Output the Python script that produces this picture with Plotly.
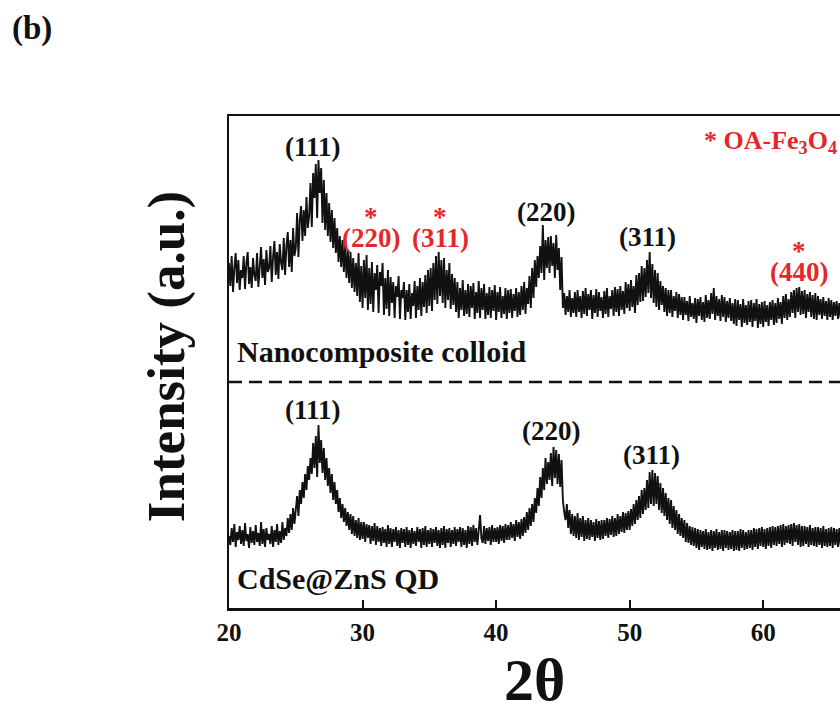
import plotly.graph_objects as go

# ---------------- data ----------------
# 2-theta sampling of the hand-read traces
two_theta_start = 20.0
two_theta_step = 0.1

# Nanocomposite colloid pattern (arbitrary intensity units), one row per degree (20..65)
nanocomposite_colloid = [
    345, 322, 352, 316, 340, 355, 325, 348, 318, 338,   # 20
    330, 352, 319, 345, 356, 324, 341, 320, 350, 333,   # 21
    327, 355, 321, 344, 361, 330, 349, 323, 358, 336,   # 22
    340, 362, 326, 351, 367, 333, 356, 329, 364, 345,   # 23
    338, 370, 333, 362, 376, 341, 368, 336, 380, 352,   # 24
    360, 395, 351, 388, 402, 367, 398, 372, 411, 380,   # 25
    392, 425, 381, 435, 410, 444, 390, 448, 415, 440,   # 26
    385, 428, 378, 415, 372, 405, 366, 398, 360, 390,   # 27
    355, 380, 346, 372, 341, 368, 336, 362, 330, 358,   # 28
    325, 356, 320, 350, 316, 345, 312, 355, 306, 342,   # 29
    300, 348, 310, 353, 298, 340, 304, 346, 296, 335,   # 30
    318, 343, 295, 336, 322, 345, 293, 330, 299, 338,   # 31
    292, 331, 305, 326, 290, 322, 311, 332, 289, 318,   # 32
    310, 326, 288, 318, 296, 324, 289, 315, 302, 327,   # 33
    290, 322, 298, 330, 292, 326, 301, 333, 295, 338,   # 34
    302, 340, 297, 345, 308, 352, 304, 356, 312, 348,   # 35
    305, 350, 300, 338, 308, 345, 299, 334, 303, 330,   # 36
    296, 326, 290, 320, 298, 328, 292, 318, 294, 324,   # 37
    291, 322, 300, 325, 289, 316, 295, 327, 290, 320,   # 38
    298, 324, 289, 315, 293, 321, 290, 318, 297, 323,   # 39
    288, 316, 296, 321, 290, 312, 294, 320, 289, 318,   # 40
    295, 319, 290, 314, 297, 320, 291, 316, 293, 322,   # 41
    298, 326, 294, 320, 304, 332, 300, 340, 310, 348,   # 42
    321, 352, 330, 362, 335, 383, 328, 368, 340, 371,   # 43
    335, 372, 342, 365, 330, 373, 338, 360, 318, 351,   # 44
    300, 315, 293, 312, 296, 318, 291, 310, 295, 316,   # 45
    291, 318, 296, 312, 290, 317, 294, 320, 292, 314,   # 46
    298, 318, 289, 313, 295, 319, 291, 316, 297, 311,   # 47
    290, 317, 294, 320, 291, 312, 299, 318, 292, 321,   # 48
    296, 319, 292, 322, 298, 317, 294, 326, 300, 324,   # 49
    297, 328, 301, 322, 295, 333, 303, 335, 306, 342,   # 50
    307, 340, 311, 348, 315, 356, 310, 344, 305, 338,   # 51
    301, 335, 298, 327, 303, 322, 296, 320, 292, 318,   # 52
    295, 318, 291, 312, 297, 316, 290, 314, 293, 311,   # 53
    288, 311, 293, 307, 287, 312, 291, 305, 289, 310,   # 54
    285, 309, 292, 311, 288, 306, 286, 313, 290, 308,   # 55
    289, 315, 294, 320, 288, 312, 292, 309, 287, 313,   # 56
    291, 311, 286, 307, 290, 310, 287, 305, 284, 309,   # 57
    282, 308, 288, 304, 281, 309, 285, 303, 283, 307,   # 58
    286, 308, 281, 305, 287, 309, 280, 304, 284, 306,   # 59
    281, 307, 286, 303, 282, 306, 288, 308, 283, 305,   # 60
    285, 310, 289, 306, 284, 312, 290, 314, 288, 309,   # 61
    291, 316, 295, 318, 290, 320, 296, 321, 293, 317,   # 62
    294, 318, 290, 314, 296, 316, 291, 313, 289, 315,   # 63
    288, 312, 293, 309, 289, 311, 292, 307, 288, 310,   # 64
    291, 308, 288, 306, 292, 307, 289, 305, 290,        # 65
]

# CdSe@ZnS QD pattern (arbitrary intensity units)
cdse_zns_qd = [
    72, 63, 80, 66, 84, 61, 76, 68, 82, 64,             # 20
    78, 62, 85, 67, 74, 60, 81, 65, 77, 63,             # 21
    83, 66, 75, 62, 86, 64, 79, 61, 80, 68,             # 22
    74, 64, 82, 61, 78, 66, 84, 63, 77, 65,             # 23
    86, 68, 80, 72, 90, 75, 94, 78, 100, 84,            # 24
    98, 112, 92, 118, 104, 126, 110, 134, 118, 142,     # 25
    128, 150, 134, 165, 140, 172, 131, 183, 145, 168,   # 26
    135, 160, 128, 150, 122, 140, 115, 134, 108, 126,   # 27
    104, 118, 96, 110, 90, 104, 86, 100, 82, 96,        # 28
    78, 94, 74, 92, 72, 88, 70, 90, 68, 86,             # 29
    69, 86, 66, 84, 70, 83, 64, 82, 67, 85,             # 30
    63, 82, 66, 80, 62, 81, 65, 79, 61, 83,             # 31
    64, 80, 61, 79, 66, 81, 62, 78, 60, 80,             # 32
    65, 79, 61, 81, 63, 78, 60, 80, 64, 77,             # 33
    62, 81, 66, 79, 60, 80, 63, 82, 61, 78,             # 34
    64, 80, 61, 79, 65, 81, 62, 78, 60, 80,             # 35
    63, 82, 60, 79, 65, 80, 61, 78, 64, 81,             # 36
    62, 79, 66, 81, 61, 80, 63, 78, 60, 82,             # 37
    64, 81, 62, 83, 66, 80, 63, 82, 93, 70,             # 38
    65, 82, 64, 80, 67, 81, 63, 83, 66, 80,             # 39
    66, 81, 64, 83, 67, 82, 65, 84, 68, 83,             # 40
    68, 86, 70, 84, 67, 88, 71, 86, 69, 89,             # 41
    72, 91, 75, 96, 78, 100, 82, 104, 86, 110,          # 42
    95, 120, 102, 131, 110, 140, 118, 150, 124, 146,    # 43
    128, 155, 122, 161, 130, 158, 124, 154, 121, 148,   # 44
    108, 96, 88, 104, 80, 98, 74, 94, 72, 92,           # 45
    70, 95, 68, 90, 71, 92, 67, 88, 69, 90,             # 46
    68, 88, 71, 86, 67, 89, 70, 87, 68, 88,             # 47
    69, 88, 72, 90, 70, 89, 73, 92, 71, 90,             # 48
    72, 94, 74, 92, 76, 96, 75, 95, 78, 97,             # 49
    78, 99, 82, 104, 84, 108, 88, 112, 90, 118,         # 50
    94, 120, 98, 128, 100, 136, 104, 138, 102, 135,     # 51
    104, 132, 98, 125, 95, 120, 92, 115, 88, 110,       # 52
    84, 108, 80, 102, 78, 98, 74, 94, 72, 90,           # 53
    70, 88, 66, 85, 65, 82, 63, 81, 62, 80,             # 54
    60, 79, 58, 78, 61, 77, 59, 79, 58, 76,             # 55
    59, 78, 57, 77, 60, 79, 58, 76, 59, 78,             # 56
    57, 78, 60, 77, 58, 76, 59, 78, 57, 77,             # 57
    58, 77, 57, 79, 60, 78, 58, 76, 59, 78,             # 58
    60, 78, 58, 80, 61, 79, 59, 80, 62, 81,             # 59
    61, 79, 59, 80, 62, 81, 60, 82, 63, 81,             # 60
    62, 82, 64, 83, 61, 84, 63, 82, 65, 83,             # 61
    64, 84, 62, 85, 66, 83, 63, 84, 61, 82,             # 62
    62, 82, 64, 81, 61, 83, 63, 80, 62, 81,             # 63
    61, 81, 63, 80, 60, 82, 62, 79, 61, 80,             # 64
    62, 81, 60, 80, 63, 79, 61, 80, 62,                 # 65
]

tick_values = [20, 30, 40, 50, 60, 70]
tick_labels = ["20", "30", "40", "50", "60", "70"]

separator_level = 226

# peak labels: text, 2theta, intensity level, red (OA-Fe3O4) or black
peak_texts = ["(111)", "(220)", "(311)", "(220)", "(311)", "(440)",
              "(111)", "(220)", "(311)"]
peak_x = [26.3, 30.6, 35.8, 43.7, 51.3, 62.7, 26.3, 44.1, 51.6]
peak_y = [461, 370, 370, 396, 371, 336, 198, 177, 153]
peak_red = [False, True, True, False, False, True, False, False, False]

sample_names = ["Nanocomposite colloid", "CdSe@ZnS QD"]
sample_x = [20.45, 20.45]
sample_y = [257, 30]

RED = "#E5262B"
BLACK = "#111111"
FONT = "Liberation Serif, Times New Roman, serif"

# ---------------- figure ----------------
theta = [round(two_theta_start + i * two_theta_step, 1) for i in range(len(nanocomposite_colloid))]

fig = go.Figure()
fig.add_trace(go.Scatter(x=theta, y=nanocomposite_colloid, mode="lines",
                         line=dict(color=BLACK, width=1.9), showlegend=False,
                         hoverinfo="skip"))
fig.add_trace(go.Scatter(x=theta, y=cdse_zns_qd, mode="lines",
                         line=dict(color=BLACK, width=1.9), showlegend=False,
                         hoverinfo="skip"))

fig.add_shape(type="line", xref="paper", x0=0, x1=1, yref="y",
              y0=separator_level, y1=separator_level,
              line=dict(color=BLACK, width=2.5, dash="13px,7px"))

annotations = []
for t, xv, yv, red in zip(peak_texts, peak_x, peak_y, peak_red):
    col = RED if red else BLACK
    annotations.append(dict(x=xv, y=yv, xref="x", yref="y", text="<b>%s</b>" % t,
                            showarrow=False, font=dict(family=FONT, size=27, color=col),
                            xanchor="center", yanchor="middle"))
    if red:
        annotations.append(dict(x=xv, y=yv + 21, xref="x", yref="y", text="<b>*</b>",
                                showarrow=False, font=dict(family=FONT, size=27, color=col),
                                xanchor="center", yanchor="middle"))

annotations.append(dict(x=55.4, y=466, xref="x", yref="y",
                        text="<b>* OA-Fe<sub>3</sub>O<sub>4</sub></b>",
                        showarrow=False, font=dict(family=FONT, size=26, color=RED),
                        xanchor="left", yanchor="middle"))

for name, xv, yv in zip(sample_names, sample_x, sample_y):
    annotations.append(dict(x=xv, y=yv, xref="x", yref="y", text="<b>%s</b>" % name,
                            showarrow=False, font=dict(family=FONT, size=30, color=BLACK),
                            xanchor="left", yanchor="middle"))

# panel letter and axis titles
annotations.append(dict(x=-0.323, y=1.177, xref="paper", yref="paper", text="<b>(b)</b>",
                        showarrow=False, font=dict(family=FONT, size=33, color=BLACK),
                        xanchor="center", yanchor="middle"))
annotations.append(dict(x=-0.103, y=0.51, xref="paper", yref="paper",
                        text="<b>Intensity (a.u.)</b>", textangle=-90,
                        showarrow=False, font=dict(family=FONT, size=53, color=BLACK),
                        xanchor="center", yanchor="middle"))
annotations.append(dict(x=0.5, y=-0.146, xref="paper", yref="paper",
                        text="<b>2θ</b>",
                        showarrow=False, font=dict(family=FONT, size=60, color=BLACK),
                        xanchor="center", yanchor="middle"))

fig.update_layout(
    width=840, height=727,
    margin=dict(l=229, r=0, t=116, b=119, pad=0),
    paper_bgcolor="white", plot_bgcolor="white",
    annotations=annotations,
    xaxis=dict(range=[20, 65.75], tickvals=tick_values,
               ticktext=["<b>%s</b>" % s for s in tick_labels],
               ticks="inside", ticklen=8, tickwidth=2, tickcolor=BLACK,
               showline=True, linewidth=2.5, linecolor=BLACK, mirror=True,
               showgrid=False, zeroline=False,
               tickfont=dict(family=FONT, size=25, color=BLACK)),
    yaxis=dict(range=[0, 492], showticklabels=False, ticks="",
               showline=True, linewidth=2.5, linecolor=BLACK, mirror=False,
               showgrid=False, zeroline=False),
)

fig.write_html("out.html",
               config={"displayModeBar": False, "staticPlot": True},
               post_script="document.body.style.margin='0px';document.body.style.overflow='hidden';")
